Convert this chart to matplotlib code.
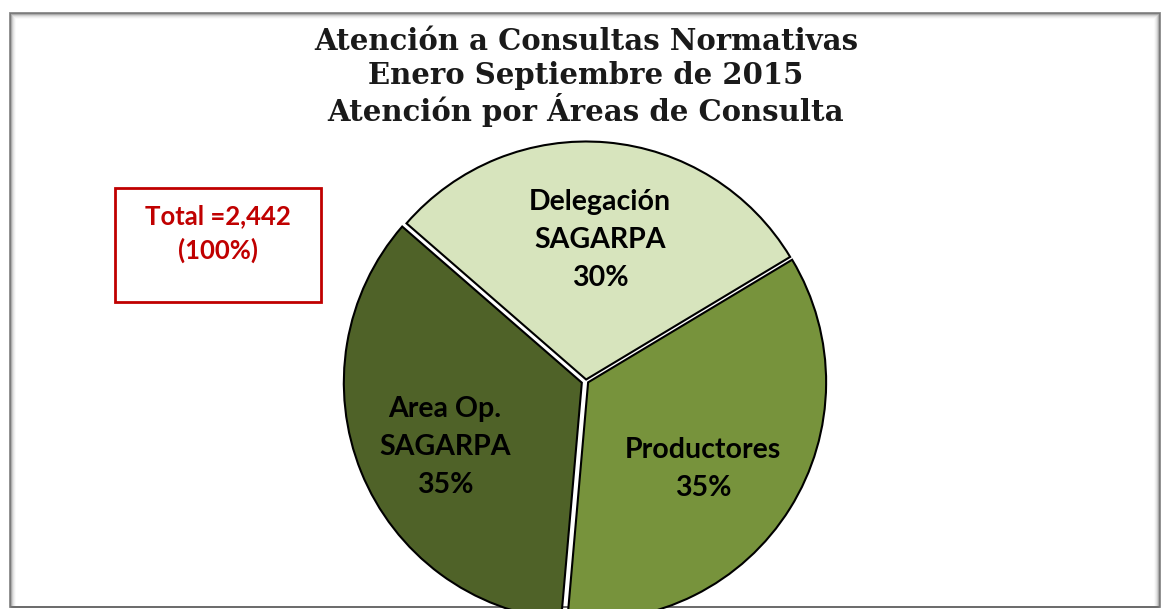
import matplotlib.pyplot as plt
from matplotlib.patches import Rectangle

# datos del grafico
areas = ['Delegación\nSAGARPA', 'Productores', 'Area Op.\nSAGARPA']
porcentajes = [30, 35, 35]
colores = ['#D7E4BD', '#77933C', '#4F6228']
titulo = ['Atención a Consultas Normativas',
          'Enero Septiembre de 2015',
          'Atención por Áreas de Consulta']
total_txt = 'Total =2,442\n(100%)'

W, H = 1162, 609
fig = plt.figure(figsize=(W / 100, H / 100), dpi=100)
ax = fig.add_axes([0, 0, 1, 1])
ax.set_xlim(0, W)
ax.set_ylim(0, H)
ax.set_aspect('equal')
ax.axis('off')

def py(y):
    # coordenada en pixeles desde arriba
    return H - y

# marco con sombra
for i, a in enumerate([0.7, 0.4, 0.22, 0.12, 0.06, 0.03]):
    ax.add_patch(Rectangle((10 + i, py(607)), 1150 - 2 * i, 594 - i,
                           fill=False, edgecolor='#555555', alpha=a, lw=1.3))

# pastel (explode en pixeles)
cx, cy, r = 586, py(381), 238
wedges, _ = ax.pie(porcentajes, colors=colores, startangle=139, counterclock=False,
                   explode=[1.5, 2.5, 4.5], center=(cx, cy), radius=r,
                   wedgeprops=dict(edgecolor='black', linewidth=1.5))
ax.set_xlim(0, W)
ax.set_ylim(0, H)

etiquetas_pos = [(600, 240), (703, 469), (445, 447)]
for nombre, p, (x, y) in zip(areas, porcentajes, etiquetas_pos):
    ax.text(x, py(y), f'{nombre}\n{p}%', ha='center', va='center', fontsize=20.5,
            fontweight='bold', family='Lato', linespacing=1.55)

# titulo
for t, y in zip(titulo, [42, 75, 110]):
    ax.text(586, py(y), t, ha='center', va='center', fontsize=21,
            family='DejaVu Serif', fontweight='bold', color='#1a1a1a')

# cuadro total
ax.add_patch(Rectangle((115, py(302)), 206, 114, fill=False, edgecolor='#C00000', lw=2))
ax.text(218, py(234), total_txt, ha='center', va='center', fontsize=18.5,
        fontweight='bold', family='Lato', color='#C00000', linespacing=1.45)

fig.savefig('out.png', dpi=100)
